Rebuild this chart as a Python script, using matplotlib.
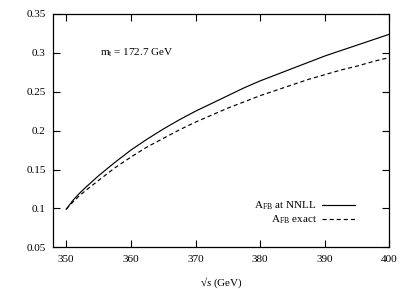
import numpy as np
import matplotlib
matplotlib.use("Agg")
import matplotlib.pyplot as plt
from matplotlib.ticker import FuncFormatter

plt.rcParams['font.family'] = ['Liberation Serif', 'DejaVu Serif']
plt.rcParams['mathtext.fontset'] = 'custom'
plt.rcParams['mathtext.rm'] = 'Liberation Serif'
plt.rcParams['mathtext.it'] = 'Liberation Serif:italic'
plt.rcParams['font.size'] = 8

# sqrt(s) in GeV
sqrt_s = [350, 351, 352, 353, 355, 357.5, 360, 362.5, 365, 367.5, 370, 372.5,
          375, 377.5, 380, 382.5, 385, 387.5, 390, 392.5, 395, 397.5, 400]
# A_FB at NNLL (solid) and exact (dashed)
afb_nnll = [0.099, 0.110, 0.119, 0.127, 0.142, 0.159, 0.175, 0.189, 0.202, 0.214, 0.225, 0.235,
            0.245, 0.255, 0.264, 0.272, 0.280, 0.288, 0.296, 0.303, 0.310, 0.317, 0.324]
afb_exact = [0.099, 0.108, 0.116, 0.123, 0.136, 0.152, 0.166, 0.179, 0.190, 0.201, 0.211, 0.220,
             0.229, 0.237, 0.245, 0.252, 0.259, 0.266, 0.272, 0.278, 0.283, 0.289, 0.294]

xticks = [350, 360, 370, 380, 390, 400]
yticks = [0.05, 0.1, 0.15, 0.2, 0.25, 0.3, 0.35]

fig = plt.figure(figsize=(4.09, 2.89), dpi=100)
ax = fig.add_axes([0.1303, 0.1443, 0.9523 - 0.1303, 0.9516 - 0.1443])

ax.plot(sqrt_s, afb_nnll, color='black', lw=0.85, label=r'A$_\mathrm{FB}$ at NNLL')
ax.plot(sqrt_s, afb_exact, color='black', lw=0.85, dashes=(3.5, 2.5), label=r'A$_\mathrm{FB}$ exact')

ax.set_xlim(348, 400)
ax.set_ylim(0.05, 0.35)
ax.set_xticks(xticks)
ax.set_yticks(yticks)
ax.yaxis.set_major_formatter(FuncFormatter(lambda v, p: '%g' % v))
ax.tick_params(direction='in', top=True, right=True, length=5, width=0.8, pad=5.5)
for sp in ax.spines.values():
    sp.set_linewidth(0.9)

ax.text(355.2, 0.3, r'm$_\mathrm{t}$ = 172.7 GeV', va='center', ha='left')
ax.set_xlabel('\u221a$s$ (GeV)', labelpad=8)

ax.legend(loc='lower right', bbox_to_anchor=(0.897, 0.09), frameon=False,
          markerfirst=False, handlelength=3.0, handletextpad=0.45,
          labelspacing=0.15, borderpad=0, borderaxespad=0)

fig.savefig('out.png', dpi=100)
